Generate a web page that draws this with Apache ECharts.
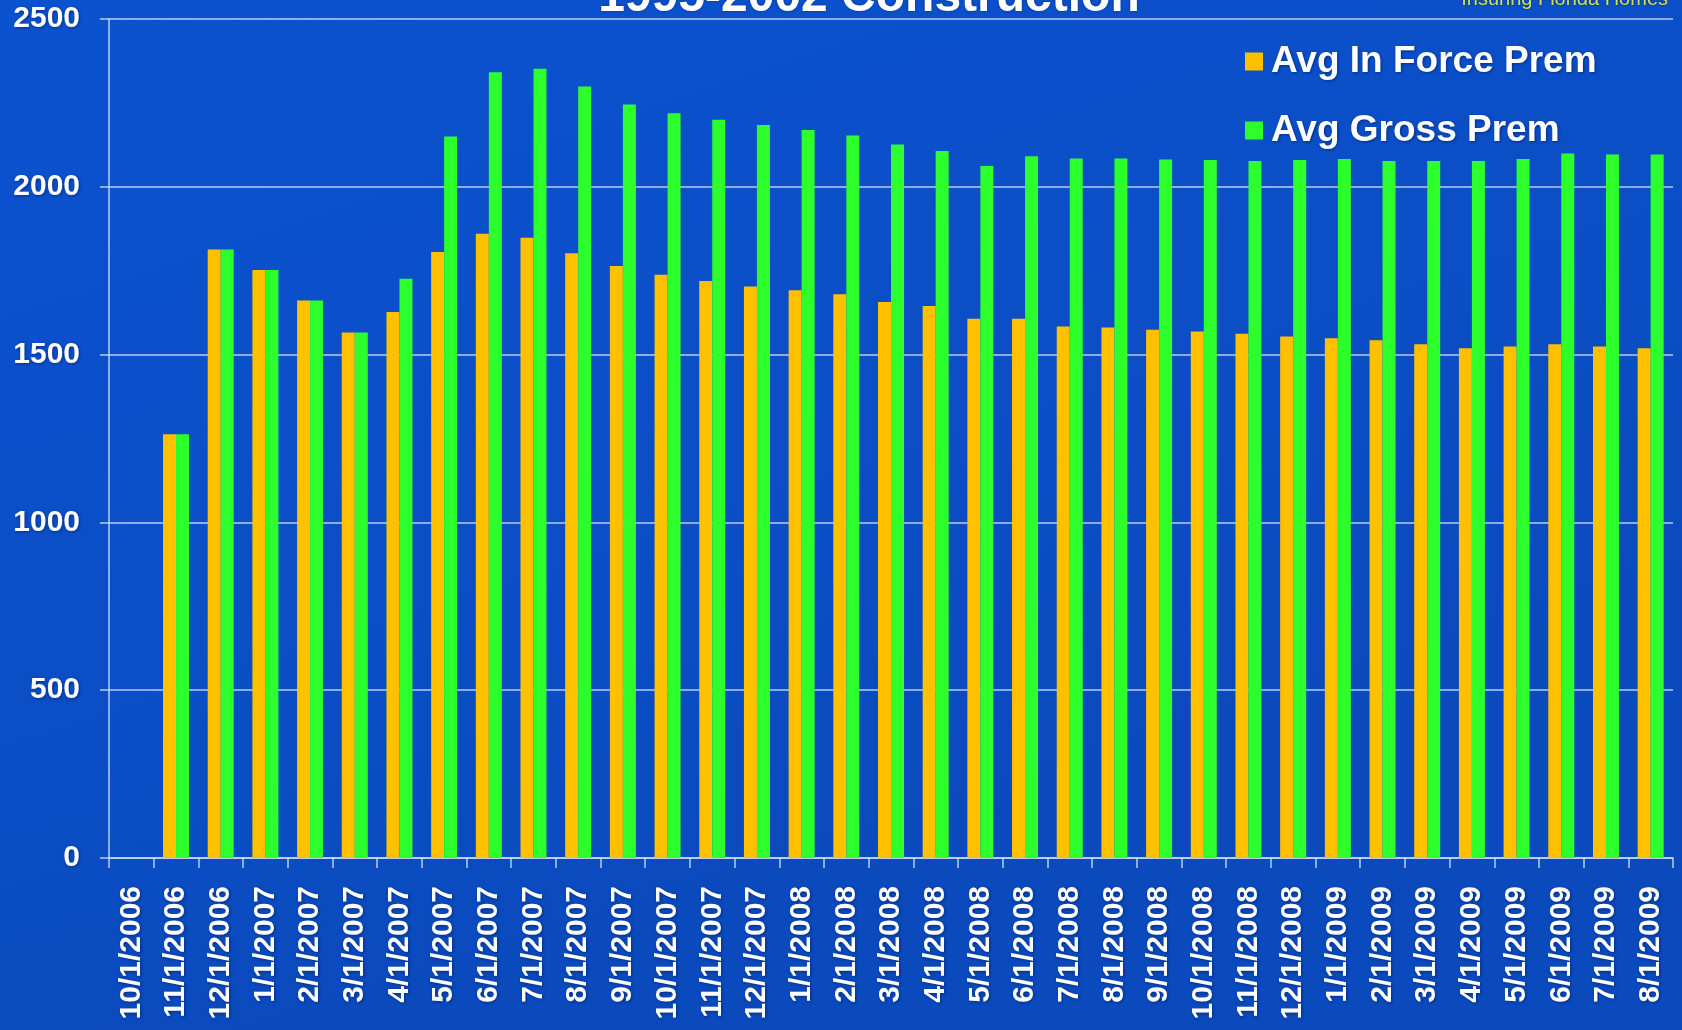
<!DOCTYPE html>
<html>
<head>
<meta charset="utf-8">
<script src="https://cdn.jsdelivr.net/npm/echarts@6/dist/echarts.min.js"></script>
<style>
  html, body { margin: 0; padding: 0; background: #0b4fc8; }
  #chart { width: 1682px; height: 1030px; }
</style>
</head>
<body>
<div id="chart"></div>
<script>
// Monthly snapshot dates
const months = [
  '10/1/2006', '11/1/2006', '12/1/2006',
  '1/1/2007', '2/1/2007', '3/1/2007', '4/1/2007', '5/1/2007', '6/1/2007',
  '7/1/2007', '8/1/2007', '9/1/2007', '10/1/2007', '11/1/2007', '12/1/2007',
  '1/1/2008', '2/1/2008', '3/1/2008', '4/1/2008', '5/1/2008', '6/1/2008',
  '7/1/2008', '8/1/2008', '9/1/2008', '10/1/2008', '11/1/2008', '12/1/2008',
  '1/1/2009', '2/1/2009', '3/1/2009', '4/1/2009', '5/1/2009', '6/1/2009',
  '7/1/2009', '8/1/2009'
];

// Average in-force premium
const avgInForcePrem = [
  null, 1263, 1813, 1752, 1661, 1566, 1627, 1806, 1860, 1848, 1802, 1764,
  1738, 1719, 1703, 1692, 1680, 1657, 1645, 1607, 1607, 1584, 1581, 1574,
  1569, 1562, 1554, 1549, 1543, 1531, 1519, 1524, 1531, 1524, 1519
];

// Average gross premium
const avgGrossPrem = [
  null, 1263, 1813, 1752, 1661, 1566, 1726, 2150, 2341, 2352, 2299, 2245,
  2219, 2200, 2184, 2169, 2153, 2126, 2107, 2062, 2091, 2084, 2084, 2081,
  2080, 2077, 2080, 2083, 2077, 2077, 2077, 2083, 2099, 2096, 2096
];

const yTicks = { min: 0, max: 2500, interval: 500 };

const chart = echarts.init(document.getElementById('chart'), null, { renderer: 'canvas' });

const lineColor = 'rgba(215, 226, 250, 0.85)';
const labelFont = '"Liberation Sans", Arial, Helvetica, sans-serif';
const shadow = { textShadowColor: 'rgba(0, 20, 80, 0.55)', textShadowBlur: 3, textShadowOffsetX: 1, textShadowOffsetY: 1 };

chart.setOption({
  backgroundColor: {
    type: 'linear', x: 0, y: 0, x2: 0.2, y2: 1,
    colorStops: [
      { offset: 0, color: '#0b52cf' },
      { offset: 0.5, color: '#0b4fc8' },
      { offset: 1, color: '#0a4abd' }
    ]
  },
  animation: false,
  textStyle: { fontFamily: labelFont },
  graphic: [
    {
      type: 'text',
      x: 869, y: -2,
      style: {
        text: '1995-2002 Construction',
        fill: '#ffffff',
        font: 'bold 48px ' + labelFont,
        textAlign: 'center',
        textVerticalAlign: 'middle',
        textShadowColor: 'rgba(0,20,80,0.5)', textShadowBlur: 3
      },
      z: 10
    },
    {
      type: 'text',
      x: 1668, y: -1,
      style: {
        text: 'Insuring Florida Homes',
        fill: '#cfe05a',
        font: '20px ' + labelFont,
        textAlign: 'right',
        textVerticalAlign: 'middle',
        textShadowColor: 'rgba(0,0,0,0.6)', textShadowBlur: 2
      },
      z: 10
    }
  ],
  legend: {
    orient: 'vertical',
    left: 1240,
    top: 38,
    itemWidth: 18,
    itemHeight: 18,
    itemGap: 32,
    icon: 'rect',
    textStyle: {
      color: '#ffffff',
      fontSize: 37,
      fontWeight: 'bold',
      fontFamily: labelFont,
      padding: [0, 0, 0, 3],
      ...shadow
    },
    data: ['Avg In Force Prem', 'Avg Gross Prem']
  },
  grid: {
    left: 109,
    right: 9,
    top: 19,
    bottom: 172,
    containLabel: false
  },
  xAxis: {
    type: 'category',
    data: months,
    boundaryGap: true,
    axisLine: { show: true, lineStyle: { color: lineColor, width: 1.5 } },
    axisTick: { show: true, length: 10, alignWithLabel: false, lineStyle: { color: lineColor, width: 1.5 } },
    axisLabel: {
      interval: 0,
      rotate: 90,
      margin: 28,
      color: '#ffffff',
      fontSize: 30,
      fontWeight: 'bold',
      fontFamily: labelFont,
      ...shadow
    },
    splitLine: { show: false }
  },
  yAxis: {
    type: 'value',
    min: yTicks.min,
    max: yTicks.max,
    interval: yTicks.interval,
    axisLine: { show: true, lineStyle: { color: lineColor, width: 1.5 } },
    axisTick: { show: true, length: 9, lineStyle: { color: lineColor, width: 1.5 } },
    axisLabel: {
      margin: 29,
      color: '#ffffff',
      fontSize: 30,
      fontWeight: 'bold',
      fontFamily: labelFont,
      formatter: (v) => String(v),
      ...shadow
    },
    splitLine: { show: true, lineStyle: { color: lineColor, width: 1.5 } }
  },
  series: [
    {
      name: 'Avg In Force Prem',
      type: 'bar',
      data: avgInForcePrem,
      barWidth: 13,
      barGap: '0%',
      itemStyle: { color: '#ffc000' }
    },
    {
      name: 'Avg Gross Prem',
      type: 'bar',
      data: avgGrossPrem,
      barWidth: 13,
      barGap: '0%',
      itemStyle: { color: '#2cff2c' }
    }
  ]
});
</script>
</body>
</html>
